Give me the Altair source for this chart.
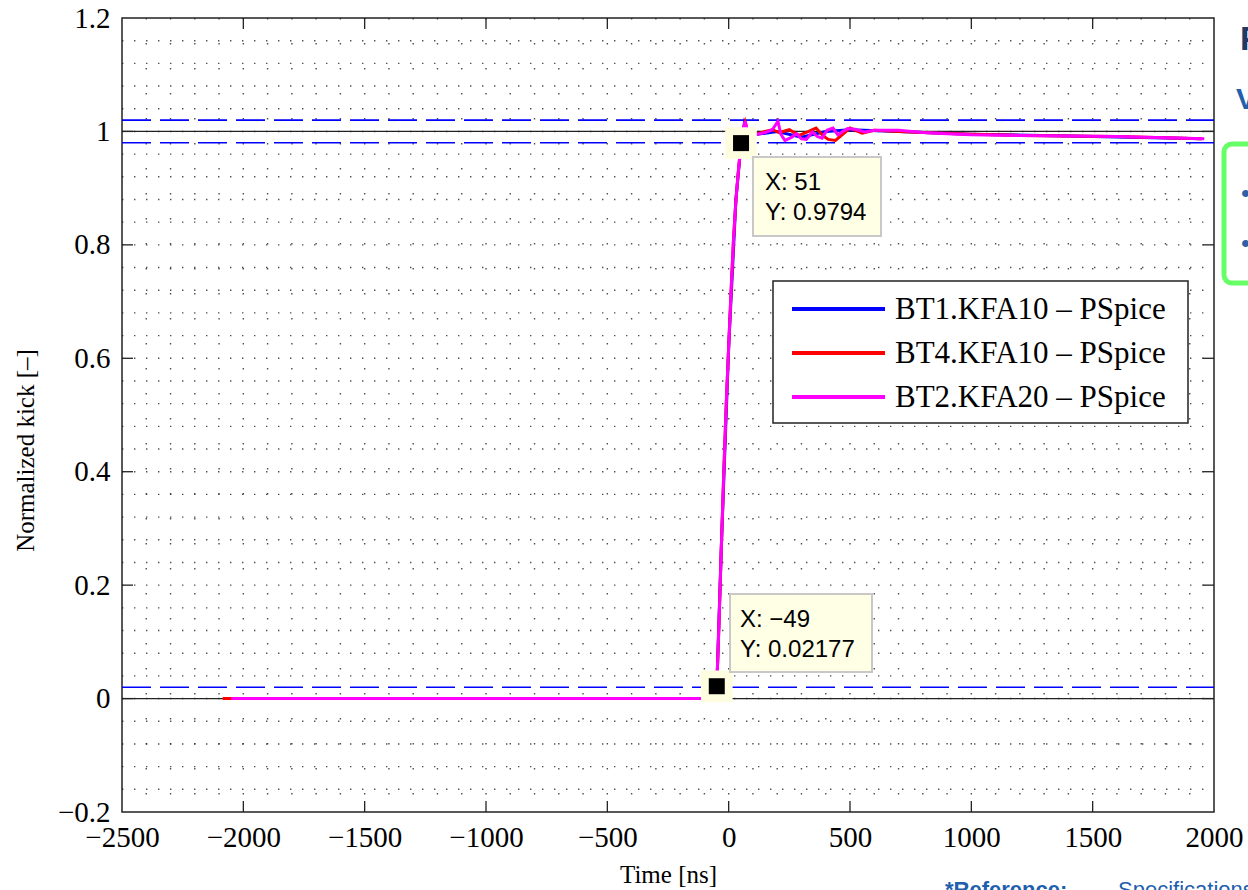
import altair as alt
import pandas as pd

W, H = 1092, 794

# ---------------- data ----------------
bt1_t = [-2070, -1000, -100, -80, -60, -49, -30, 0, 30, 51, 65, 80, 120, 200, 300, 400, 500, 700, 1000, 1400, 1950]
bt1_y = [0, 0, 0, 0.001, 0.008, 0.02, 0.27, 0.62, 0.88, 0.978, 1.015, 1.0, 0.995, 1.0, 0.99, 1.0, 1.003, 1.0, 0.995, 0.992, 0.987]

bt4_t = [-2085, -1000, -100, -80, -70, -60, -49, -40, -30, -20, -10, 0, 10, 20, 30, 40, 51, 62, 68, 78, 95, 120,
         150, 180, 210, 250, 290, 330, 360, 390, 410, 440, 470, 500, 550, 600, 700, 800, 1000, 1200, 1400, 1600, 1800, 1950]
bt4_y = [0, 0, 0, 0.001, 0.003, 0.008, 0.02, 0.13, 0.27, 0.40, 0.52, 0.62, 0.72, 0.81, 0.88, 0.93, 0.978, 1.006, 1.016, 1.0, 0.993, 0.996,
         1.0, 1.003, 0.998, 1.003, 0.993, 1.0, 1.006, 0.992, 0.986, 0.984, 0.995, 1.006, 0.997, 1.002, 1.0, 0.998, 0.995, 0.993, 0.992, 0.991, 0.989, 0.987]

bt2_t = [-2050, -1000, -100, -80, -70, -60, -49, -40, -30, -20, -10, 0, 10, 20, 30, 40, 51, 62, 68, 78, 95, 120,
         150, 180, 203, 215, 232, 260, 280, 300, 320, 345, 365, 385, 405, 430, 450, 470, 490, 520, 560, 600,
         650, 700, 800, 900, 1000, 1200, 1400, 1600, 1800, 1960]
bt2_y = [0, 0, 0, 0.001, 0.003, 0.008, 0.0218, 0.13, 0.27, 0.40, 0.52, 0.62, 0.72, 0.81, 0.88, 0.93, 0.9794, 1.008, 1.018, 1.0, 0.993, 0.995,
         0.998, 1.003, 1.018, 0.995, 0.984, 0.99, 0.996, 0.987, 0.986, 0.999, 0.991, 0.988, 1.002, 1.006, 0.994, 1.0, 1.005, 1.004, 0.999, 1.002,
         1.002, 1.002, 0.998, 0.996, 0.994, 0.993, 0.992, 0.991, 0.989, 0.987]

series_names = ["BT1.KFA10 – PSpice", "BT4.KFA10 – PSpice", "BT2.KFA20 – PSpice"]
series_colors = ["#0000FF", "#FF0000", "#FF00FF"]

x_ticks = [-2500, -2000, -1500, -1000, -500, 0, 500, 1000, 1500, 2000]
y_ticks = [-0.2, 0, 0.2, 0.4, 0.6, 0.8, 1.0, 1.2]
x_minor = list(range(-2400, 2000, 100))
y_minor = [round(-0.16 + 0.04 * i, 2) for i in range(34)]

solid_ref = [0.0, 1.0]
dashed_ref = [0.02, 0.98, 1.02]

tip_x = [-49, 51]
tip_y = [0.02177, 0.9794]
tip_text1 = ["X: −49", "X: 51"]
tip_text2 = ["Y: 0.02177", "Y: 0.9794"]

# ---------------- scales ----------------
xs = alt.Scale(domain=[-2500, 2000], nice=False, zero=False)
ys = alt.Scale(domain=[-0.2, 1.2], nice=False, zero=False)

SERIF = "Liberation Serif"
SANS = "Liberation Sans"

frames = []
for name, t, y in [(series_names[0], bt1_t, bt1_y), (series_names[1], bt4_t, bt4_y), (series_names[2], bt2_t, bt2_y)]:
    frames.append(pd.DataFrame({"t": t, "y": y, "series": name, "order": range(len(t))}))
lines_df = pd.concat(frames, ignore_index=True)

one = pd.DataFrame({"a": [0]})

# base axis layer (carries the axes)
axes_layer = alt.Chart(pd.DataFrame({"t": [-2500], "y": [-0.2]})).mark_point(opacity=0).encode(
    x=alt.X("t:Q", scale=xs, title="Time [ns]",
            axis=alt.Axis(values=x_ticks, format="d", ticks=False, grid=False, domain=False,
                          labelFont=SERIF, labelFontSize=29, labelColor="black", labelPadding=11,
                          labelFlush=False, labelOverlap=False,
                          titleFont=SERIF, titleFontSize=25, titleFontWeight="normal", titleColor="black",
                          titlePadding=10)),
    y=alt.Y("y:Q", scale=ys, title="Normalized kick [–]",
            axis=alt.Axis(values=y_ticks, ticks=False, grid=False, domain=False,
                          labelExpr="replace(format(datum.value, '.1~f'), '-', '−')",
                          labelFont=SERIF, labelFontSize=29, labelColor="black", labelPadding=12,
                          labelFlush=False, labelOverlap=False,
                          titleFont=SERIF, titleFontSize=25, titleFontWeight="normal", titleColor="black",
                          titleAngle=270, titleBaseline="middle", titleAlign="center",
                          titleX=-97, titleY=432)),
)

# dotted grid
vgrid = alt.Chart(pd.DataFrame({"t": x_minor})).mark_rule(
    color="#222", strokeWidth=1.4, strokeDash=[1.4, 23.6], opacity=0.8
).encode(x=alt.X("t:Q", scale=xs), y=alt.value(0), y2=alt.value(H))

hgrid = alt.Chart(pd.DataFrame({"y": y_minor})).mark_rule(
    color="#222", strokeWidth=1.4, strokeDash=[1.4, 10.6], opacity=0.8
).encode(y=alt.Y("y:Q", scale=ys), x=alt.value(0), x2=alt.value(W))

# reference lines
solid_lines = alt.Chart(pd.DataFrame({"y": solid_ref})).mark_rule(color="#222", strokeWidth=1.3).encode(
    y=alt.Y("y:Q", scale=ys), x=alt.value(0), x2=alt.value(W))
dashed_lines = alt.Chart(pd.DataFrame({"y": dashed_ref})).mark_rule(
    color="#0000FF", strokeWidth=1.6, strokeDash=[29, 9]).encode(
    y=alt.Y("y:Q", scale=ys), x=alt.value(0), x2=alt.value(W))

# data lines
data_lines = alt.Chart(lines_df).mark_line(strokeWidth=3).encode(
    x=alt.X("t:Q", scale=xs),
    y=alt.Y("y:Q", scale=ys),
    color=alt.Color("series:N", scale=alt.Scale(domain=series_names, range=series_colors), legend=None),
    detail="series:N",
    order="order:Q",
)

# ticks (inward, on all four sides)
xt_df = pd.DataFrame({"t": x_ticks[1:-1]})
yt_df = pd.DataFrame({"y": y_ticks[1:-1]})
ticks_b = alt.Chart(xt_df).mark_rule(color="#222", strokeWidth=1.3).encode(
    x=alt.X("t:Q", scale=xs), y=alt.value(H), y2=alt.value(H - 11))
ticks_t = alt.Chart(xt_df).mark_rule(color="#222", strokeWidth=1.3).encode(
    x=alt.X("t:Q", scale=xs), y=alt.value(0), y2=alt.value(11))
ticks_l = alt.Chart(yt_df).mark_rule(color="#222", strokeWidth=1.3).encode(
    y=alt.Y("y:Q", scale=ys), x=alt.value(0), x2=alt.value(11))
ticks_r = alt.Chart(yt_df).mark_rule(color="#222", strokeWidth=1.3).encode(
    y=alt.Y("y:Q", scale=ys), x=alt.value(W), x2=alt.value(W - 11))

# data tips
tips_df = pd.DataFrame({"t": tip_x, "y": tip_y})
tip_halo = alt.Chart(tips_df).mark_square(size=1000, color="#FFFDE0", opacity=1).encode(
    x=alt.X("t:Q", scale=xs), y=alt.Y("y:Q", scale=ys))
tip_mark = alt.Chart(tips_df).mark_square(size=256, color="black", opacity=1).encode(
    x=alt.X("t:Q", scale=xs), y=alt.Y("y:Q", scale=ys))

box1 = alt.Chart(one).mark_rect(fill="#FFFFE6", stroke="#C8C8C8", strokeWidth=2).encode(
    x=alt.value(631), x2=alt.value(759), y=alt.value(139), y2=alt.value(218))
box2 = alt.Chart(one).mark_rect(fill="#FFFFE6", stroke="#C8C8C8", strokeWidth=2).encode(
    x=alt.value(608), x2=alt.value(750), y=alt.value(576), y2=alt.value(654))


def txt(s, x, y, size, font=SANS, weight="normal", color="black", align="left", baseline="middle"):
    return alt.Chart(pd.DataFrame({"s": [s]})).mark_text(
        font=font, fontSize=size, fontWeight=weight, color=color, align=align, baseline=baseline
    ).encode(text="s:N", x=alt.value(x), y=alt.value(y))


tip_texts = [
    txt(tip_text1[1], 643, 165, 24), txt(tip_text2[1], 643, 195, 24),
    txt(tip_text1[0], 618, 602, 24), txt(tip_text2[0], 618, 632, 24),
]

# legend (manual)
leg_box = alt.Chart(one).mark_rect(fill="white", stroke="#222", strokeWidth=1.5).encode(
    x=alt.value(651), x2=alt.value(1066), y=alt.value(263), y2=alt.value(405))
leg_layers = [leg_box]
rows_y = [291, 335, 379]
for name, col, ry in zip(series_names, series_colors, rows_y):
    leg_layers.append(alt.Chart(one).mark_rule(color=col, strokeWidth=4).encode(
        x=alt.value(670), x2=alt.value(763), y=alt.value(ry)))
    leg_layers.append(txt(name, 773, ry + 1, 31, font=SERIF))

# slide fragments outside the plot
green_box = alt.Chart(one).mark_rect(fill="white", stroke="#66FF66", strokeWidth=5, cornerRadius=8).encode(
    x=alt.value(1102), x2=alt.value(1170), y=alt.value(126), y2=alt.value(265))
deco = [
    green_box,
    txt("•", 1119, 176, 26, color="#2E5FA8"),
    txt("•", 1119, 226, 26, color="#2E5FA8"),
    txt("V", 1114, 82, 30, weight="bold", color="#1F5FAE"),
    txt("P", 1118, 22, 34, weight="bold", color="#1F3864"),
    txt("*Reference:", 823, 879, 22, weight="bold", color="#1F5FAE", baseline="alphabetic"),
    txt("Specifications", 996, 879, 22, color="#1F5FAE", baseline="alphabetic"),
]

chart = alt.layer(
    axes_layer, vgrid, hgrid, solid_lines, dashed_lines, data_lines,
    ticks_b, ticks_t, ticks_l, ticks_r,
    tip_halo, tip_mark, box1, box2, *tip_texts,
    *leg_layers, *deco,
).properties(
    width=W, height=H,
    background="white",
    autosize=alt.AutoSizeParams(type="none"),
    padding={"left": 122, "top": 18, "right": 34, "bottom": 78},
).configure_view(
    stroke="#222", strokeWidth=1.5
)

chart.save("out.html", embed_options={"renderer": "svg", "actions": False})
